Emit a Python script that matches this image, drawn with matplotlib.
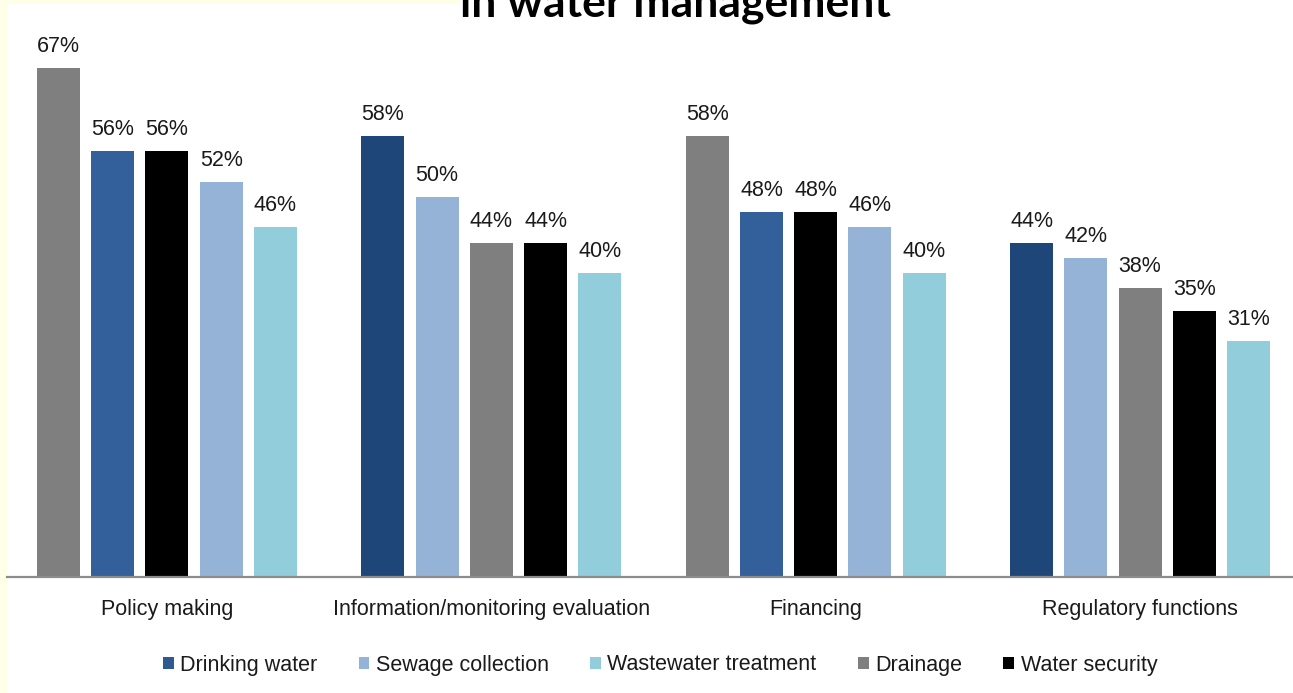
import matplotlib
matplotlib.use("Agg")
import matplotlib.pyplot as plt
from matplotlib.patches import Patch, Rectangle
import numpy as np

# Share of respondents (%) by function and water service
categories = ["Policy making", "Information/monitoring evaluation",
              "Financing", "Regulatory functions"]
series = ["Drinking water", "Sewage collection", "Wastewater treatment",
          "Drainage", "Water security"]
drinking_water = [56, 58, 48, 44]
sewage_collection = [52, 50, 46, 42]
wastewater_treatment = [46, 40, 40, 31]
drainage = [67, 44, 58, 38]
water_security = [56, 44, 48, 35]
values = [drinking_water, sewage_collection, wastewater_treatment,
          drainage, water_security]

colors = ["#2E5A90", "#95B3D7", "#92CDDC", "#7F7F7F", "#000000"]
# the drinking-water bars are printed in two blue shades
drinking_shades = ["#33609A", "#1F4679", "#33609A", "#1F4679"]

W, H, DPI = 1293, 693, 100
fig = plt.figure(figsize=(W / DPI, H / DPI), dpi=DPI)
fig.patch.set_facecolor("white")
plt.rcParams["font.family"] = ["Liberation Sans", "DejaVu Sans"]

# pale yellow page margin on the left and top
fig.add_artist(Rectangle((0, 0), 7 / W, 1, transform=fig.transFigure,
                         facecolor="#FFFFE8", edgecolor="none", zorder=0))
fig.add_artist(Rectangle((0, 1 - 4 / H), 460 / W, 4 / H,
                         transform=fig.transFigure,
                         facecolor="#FFFFE8", edgecolor="none", zorder=0))

base_px = 577
ax = fig.add_axes([7 / W, (H - base_px) / H, 1 - 7 / W, base_px / H])
ax.set_facecolor("none")
ax.set_ylim(0, base_px / 7.6)
ax.set_xlim(-0.493, 3.4715)

pitch = 0.1672
width = 0.1325
lab_fs = 15.5
for g in range(len(categories)):
    vals = [values[s][g] for s in range(len(series))]
    order = sorted(range(len(series)), key=lambda s: -vals[s])
    for k, s in enumerate(order):
        x = g + (k - 2) * pitch
        c = drinking_shades[g] if s == 0 else colors[s]
        ax.bar(x, vals[s], width=width, color=c, zorder=2)
        ax.annotate(f"{vals[s]}%", (x, vals[s]), xytext=(0, 11.5),
                    textcoords="offset points", ha="center", va="baseline",
                    fontsize=lab_fs, color="#1a1a1a")

for side in ["top", "right", "left"]:
    ax.spines[side].set_visible(False)
ax.spines["bottom"].set_color("#8C8C8C")
ax.spines["bottom"].set_linewidth(1.6)
ax.set_yticks([])
ax.set_xticks(range(len(categories)))
ax.set_xticklabels(categories, fontsize=lab_fs, color="#1a1a1a")
ax.tick_params(axis="x", length=0, pad=16)

handles = [Patch(facecolor=colors[i], edgecolor="none", label=series[i])
           for i in range(len(series))]
fig.legend(handles=handles, loc="center", ncol=5, frameon=False,
           fontsize=lab_fs, handlelength=0.5, handleheight=0.5,
           handletextpad=0.3, columnspacing=1.92,
           bbox_to_anchor=(660 / W, 1 - 665 / H),
           labelcolor="#1a1a1a")

# second line of the chart title, cut by the top edge
fig.text(675 / W, 1 - 16 / H, "in water management", ha="center",
         va="baseline", fontsize=32, fontweight="bold",
         family=["Lato", "DejaVu Sans"], color="black")

fig.savefig("out.png", dpi=DPI, facecolor=fig.get_facecolor())
